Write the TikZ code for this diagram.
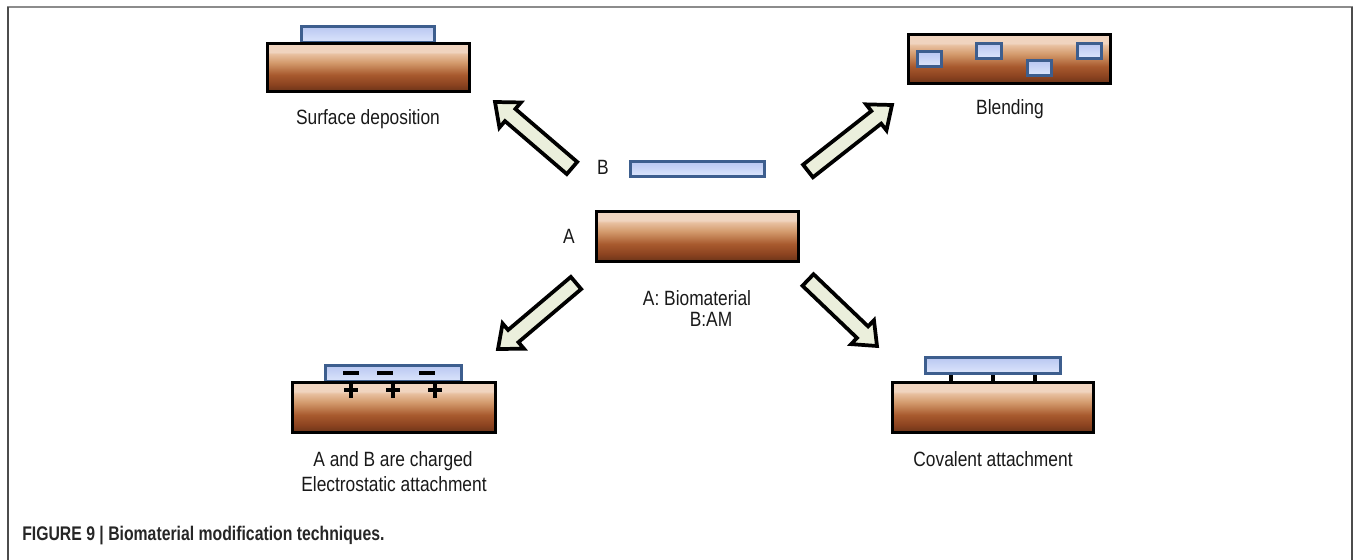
\documentclass[tikz,border=0pt]{standalone}
\usepackage{fontspec}
\setmainfont{Liberation Sans}
\newfontfamily\labfont[FakeStretch=0.84]{Liberation Sans}
\newfontfamily\capfont[FakeStretch=0.80]{Liberation Sans}
\usetikzlibrary{calc}
\definecolor{bdark}{HTML}{6A3418}
\definecolor{bmidB}{HTML}{8C4320}
\definecolor{bmidA}{HTML}{A85A2E}
\definecolor{bmid}{HTML}{D39A6C}
\definecolor{blight}{HTML}{E8C0A0}
\definecolor{bpale}{HTML}{F0D4BF}
\definecolor{bborder}{HTML}{3D5E8E}
\definecolor{bluetop}{HTML}{B9C7F1}
\definecolor{bluebot}{HTML}{DDE6FC}
\definecolor{arrfill}{HTML}{EBEFDC}
\pgfdeclareverticalshading{brownsh}{100bp}{color(0bp)=(bdark); color(25bp)=(bdark); color(32.5bp)=(bmidB); color(42.5bp)=(bmidA); color(55bp)=(bmid); color(64bp)=(blight); color(66bp)=(bpale); color(75bp)=(bpale); color(100bp)=(bpale)}
\newcommand{\blkarrow}[2]{%
  \draw[blkarr] ($(#1)!6pt!90:(#2)$) -- ($(#2)!15pt!(#1)!6pt!90:(#2)$)
    -- ($(#2)!15pt!(#1)!12.4pt!90:(#2)$) -- (#2)
    -- ($(#2)!15pt!(#1)!12.4pt!-90:(#2)$) -- ($(#2)!15pt!(#1)!6pt!-90:(#2)$)
    -- ($(#1)!6pt!-90:(#2)$) -- cycle;}
\tikzset{
  brownbox/.style={draw=black, line width=2.3pt, shading=brownsh},
  bluebox/.style={draw=bborder, line width=2.3pt, top color=bluetop, bottom color=bluebot},
  smallblue/.style={draw=bborder, line width=2.5pt, top color=bluetop, bottom color=bluebot},
  blkarr/.style={draw=black, fill=arrfill, line width=2.8pt, line join=miter},
  lab/.style={font=\labfont\fontsize{15.5pt}{18pt}\selectfont, text=black!90, inner sep=0pt, anchor=base},
  charge/.style={line width=2.5pt, black},
  link/.style={line width=2.5pt, black},
  frameline/.style={line width=1.2pt}
}
\begin{document}
\begin{tikzpicture}[x=0.75pt,y=-0.75pt]
\useasboundingbox (0,0) rectangle (1354,560);
% frame
\draw[frameline, draw=black!45] (7,7) -- (1353,7);
\draw[frameline, draw=black!70] (8,7) -- (8,560);
\draw[frameline, draw=black!70] (1352,7) -- (1352,560);

% centre: A and B
\shade[bluebox] (630.5,161.5) rectangle (764.5,176.5);
\shade[brownbox] (596.5,211.5) rectangle (798.5,261.5);
\node[lab] (lB) at (603,175) {B};
\node[lab] (lA) at (569,243) {A};
\node[lab] (leg1) at (697,305) {A: Biomaterial};
\node[lab] (leg2) at (711,326) {B:AM};

% surface deposition
\shade[bluebox] (301.5,26.5) rectangle (434.5,43);
\shade[brownbox] (267.5,43.5) rectangle (469.5,91.5);
\node[lab] (sd) at (368,124) {Surface deposition};

% blending
\shade[brownbox] (908.5,34.5) rectangle (1110.5,83.5);
\shade[smallblue] (917.5,51.5) rectangle (941.5,66.5);
\shade[smallblue] (976.5,43.5) rectangle (1001.5,58.5);
\shade[smallblue] (1027.5,60.5) rectangle (1051.5,75.5);
\shade[smallblue] (1077.5,43.5) rectangle (1101.5,58.5);
\node[lab] (bl) at (1010,115) {Blending};

% electrostatic
\shade[bluebox] (325.5,365.5) rectangle (461.5,382);
\shade[brownbox] (292.5,382.5) rectangle (495.5,432.5);
\foreach \x in {351,385,427} \draw[charge] (\x-8,373) -- (\x+8,373);
\foreach \x in {351,393,435} {\draw[charge] (\x-7,390) -- (\x+7,390); \draw[charge] (\x,383) -- (\x,398);}
\node[lab] (es1) at (393,466) {A and B are charged};
\node[lab] (es2) at (394,491) {Electrostatic attachment};

% covalent
\foreach \x in {951,993,1035} \draw[link] (\x,373) -- (\x,383);
\shade[bluebox] (925.5,357.5) rectangle (1060.5,373.5);
\shade[brownbox] (892.5,382.5) rectangle (1093.5,432.5);
\node[lab] (cv) at (993,466) {Covalent attachment};

% arrows
\coordinate (ulT) at (572,168); \coordinate (ulH) at (495,102);
\coordinate (urT) at (808,171); \coordinate (urH) at (892,105);
\coordinate (llT) at (576,283); \coordinate (llH) at (498,349);
\coordinate (lrT) at (808,280); \coordinate (lrH) at (877,346);
\blkarrow{ulT}{ulH}
\blkarrow{urT}{urH}
\blkarrow{llT}{llH}
\blkarrow{lrT}{lrH}

% caption
\node[font=\capfont\bfseries\fontsize{14.8pt}{17pt}\selectfont, text=black!85, inner sep=0pt, anchor=base west] (cap) at (22,540) {FIGURE 9 | Biomaterial modification techniques.};
\end{tikzpicture}
\end{document}
